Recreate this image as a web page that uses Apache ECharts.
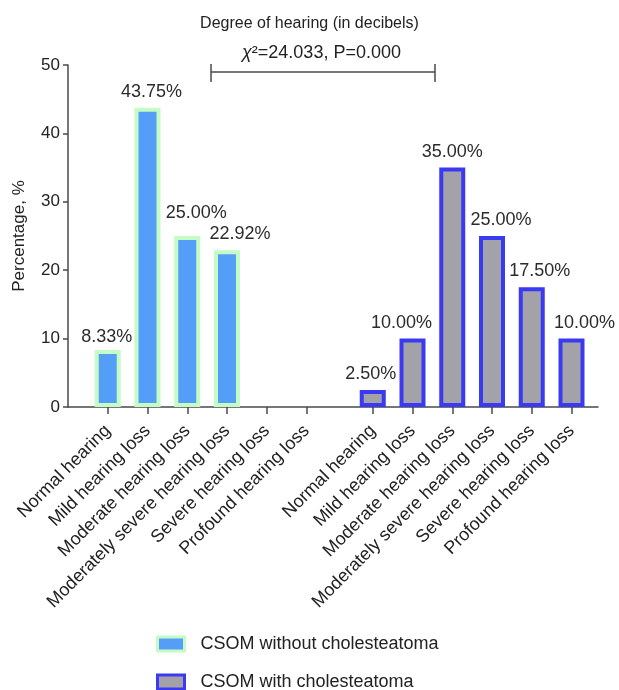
<!DOCTYPE html>
<html>
<head>
<meta charset="utf-8">
<script src="https://cdn.jsdelivr.net/npm/echarts@6/dist/echarts.min.js"></script>
<style>
html, body { margin: 0; padding: 0; background: #fff; }
#chart { width: 619px; height: 690px; }
</style>
</head>
<body>
<div id="chart"></div>
<script>
// degree of hearing categories (same for both groups)
var categories = ['Normal hearing', 'Mild hearing loss', 'Moderate hearing loss',
    'Moderately severe hearing loss', 'Severe hearing loss', 'Profound hearing loss'];
var withoutChol = [8.33, 43.75, 25.00, 22.92, 0, 0];
var withChol = [2.50, 10.00, 35.00, 25.00, 17.50, 10.00];
var seriesNames = ['CSOM without cholesteatoma', 'CSOM with cholesteatoma'];
var yMin = 0, yMax = 50, yStep = 10;

// label nudges, as in the figure
var shiftWithout = [[-1, 3], [4, 0], [9, -7], [13, 0]];
var shiftWith = [[-2, 0], [-11, 0], [0, 0], [9, 0], [8, 0], [13, 0]];

var FONT = '"Liberation Sans", Arial, Helvetica, sans-serif';
var SLOTS = 41, START1 = 3, START2 = 23, STEP = 3;

var axisData = [];
for (var i = 0; i < SLOTS; i++) axisData.push('');
categories.forEach(function (c, i) {
    axisData[START1 + STEP * i] = c;
    axisData[START2 + STEP * i] = c;
});

function buildData(values, start, shifts) {
    var arr = [];
    for (var i = 0; i < SLOTS; i++) arr.push(null);
    values.forEach(function (v, i) {
        if (v === 0) {
            arr[start + STEP * i] = { value: 0, itemStyle: { opacity: 0 }, label: { show: false } };
        } else {
            arr[start + STEP * i] = { value: v, label: { offset: shifts[i] || [0, 0] } };
        }
    });
    return arr;
}

var showSlot = function (index, value) { return value !== ''; };

var chart = echarts.init(document.getElementById('chart'));
var option = {
    animation: false,
    textStyle: { fontFamily: FONT },
    title: {
        text: 'Degree of hearing (in decibels)',
        left: 'center',
        top: 11,
        textStyle: { fontSize: 16, fontWeight: 'normal', color: '#222', fontFamily: FONT }
    },
    grid: { left: 68, right: 21, top: 65, bottom: 283 },
    legend: {
        orient: 'vertical',
        left: 156,
        top: 635,
        height: 80,
        padding: 0,
        itemWidth: 27,
        itemHeight: 14,
        itemGap: 20,
        textStyle: { fontSize: 18, lineHeight: 18, color: '#222', fontFamily: FONT, padding: [0, 0, 0, 11] },
        data: [
            { name: seriesNames[0], icon: 'rect', itemStyle: { color: '#559ef8', borderColor: '#c5fbc5', borderWidth: 3 } },
            { name: seriesNames[1], icon: 'rect', itemStyle: { color: '#a3a2a9', borderColor: '#3a3af2', borderWidth: 3 } }
        ]
    },
    xAxis: {
        type: 'category',
        data: axisData,
        boundaryGap: false,
        axisLine: { lineStyle: { color: '#4a4a4a', width: 1.5 } },
        axisTick: { interval: showSlot, length: 7, lineStyle: { color: '#4a4a4a', width: 1.5 } },
        axisLabel: {
            interval: showSlot,
            rotate: 45,
            margin: 21,
            fontSize: 18,
            color: '#222',
            fontFamily: FONT
        },
        splitLine: { show: false }
    },
    yAxis: {
        type: 'value',
        min: yMin,
        max: yMax,
        interval: yStep,
        name: 'Percentage, %',
        nameLocation: 'middle',
        nameGap: 40,
        nameTextStyle: { fontSize: 17, color: '#222', fontFamily: FONT },
        axisLine: { show: true, lineStyle: { color: '#4a4a4a', width: 1.5 } },
        axisTick: { show: true, inside: false, length: 5, lineStyle: { color: '#4a4a4a', width: 1.5 } },
        axisLabel: { fontSize: 17, color: '#222', margin: 8, fontFamily: FONT },
        splitLine: { show: false }
    },
    series: [
        {
            name: seriesNames[0],
            type: 'bar',
            barWidth: 26,
            barGap: '-100%',
            data: buildData(withoutChol, START1, shiftWithout),
            itemStyle: { color: '#559ef8', borderColor: '#c5fbc5', borderWidth: 4 },
            label: {
                show: true, position: 'top', distance: 7,
                fontSize: 18, color: '#2b2b2b', fontFamily: FONT,
                formatter: function (p) { return p.value.toFixed(2) + '%'; }
            }
        },
        {
            name: seriesNames[1],
            type: 'bar',
            barWidth: 26,
            barGap: '-100%',
            data: buildData(withChol, START2, shiftWith),
            itemStyle: { color: '#a3a2a9', borderColor: '#3a3af2', borderWidth: 4 },
            label: {
                show: true, position: 'top', distance: 7,
                fontSize: 18, color: '#2b2b2b', fontFamily: FONT,
                formatter: function (p) { return p.value.toFixed(2) + '%'; }
            }
        }
    ],
    graphic: [
        {
            type: 'text',
            left: 242,
            top: 44,
            style: {
                text: '{i|χ}²=24.033, P=0.000',
                fontSize: 18,
                fill: '#222',
                fontFamily: FONT,
                rich: { i: { fontStyle: 'italic', fontSize: 18, fontFamily: FONT } }
            }
        },
        {
            type: 'polyline',
            shape: { points: [[211, 64], [211, 82]] },
            style: { stroke: '#4a4a4a', lineWidth: 1.5 }
        },
        {
            type: 'polyline',
            shape: { points: [[211, 72], [435, 72]] },
            style: { stroke: '#4a4a4a', lineWidth: 1.5 }
        },
        {
            type: 'polyline',
            shape: { points: [[435, 64], [435, 82]] },
            style: { stroke: '#4a4a4a', lineWidth: 1.5 }
        }
    ]
};
chart.setOption(option);
</script>
</body>
</html>
